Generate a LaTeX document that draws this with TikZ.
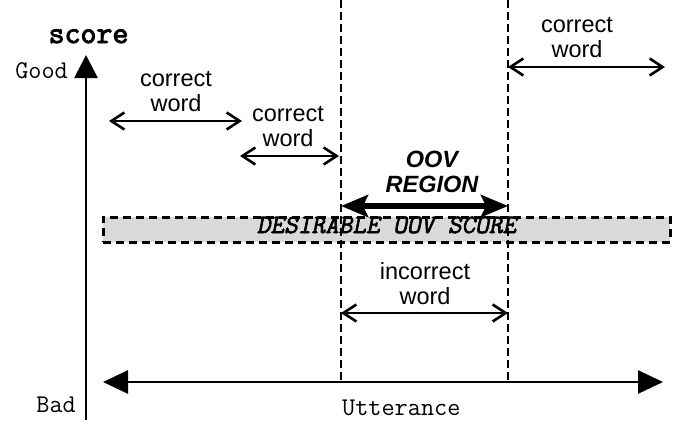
\documentclass[tikz,border=0pt]{standalone}
\usepackage{fontspec}
\setmainfont{Liberation Sans}
\newfontfamily\desfont{Latin Modern Mono}[FakeBold=2.5, FakeSlant=0.2]
\newfontfamily\scorefont{Latin Modern Mono}[FakeBold=3]
\usetikzlibrary{arrows.meta}
\begin{document}
\begin{tikzpicture}[x=1pt,y=-1pt,
  lbl/.style={font=\fontsize{23.5}{25}\selectfont, align=center, inner sep=0pt, anchor=south},
  monolbl/.style={font=\ttfamily\fontsize{25.5}{27}\selectfont, inner sep=0pt},
  thinarrow/.style={line width=2.6pt,
    {Straight Barb[length=13pt,width=17pt,line width=2.6pt]}-{Straight Barb[length=13pt,width=17pt,line width=2.6pt]}},
  bigarrow/.style={line width=6pt,
    {Stealth[length=27pt,width=22pt,inset=5pt]}-{Stealth[length=27pt,width=22pt,inset=5pt]}},
  axisarrow/.style={line width=2.8pt, -{Triangle[length=23pt,width=23pt]}},
  uttarrow/.style={line width=2.8pt,
    {Triangle[length=25pt,width=23pt]}-{Triangle[length=25pt,width=23pt]}},
  vdash/.style={line width=2.6pt, dash pattern=on 8pt off 4pt},
  desbox/.style={draw, line width=3pt, dash pattern=on 8pt off 5pt, fill=black!15,
    minimum width=567pt, minimum height=25pt, inner sep=0pt,
    text height=10pt, text depth=3pt,
    font=\desfont\fontsize{26.5}{28}\selectfont}]
\useasboundingbox (0,0) rectangle (682,426);

% desirable score band
\node[desbox] (des) at (386.5,229.5) {DESIRABLE OOV SCORE};

% vertical dashed region boundaries
\coordinate (lt) at (341,0);
\coordinate (lb) at (341,381);
\coordinate (rt) at (508,0);
\coordinate (rb) at (508,381);
\draw[vdash] (lt) -- (lb);
\draw[vdash] (rt) -- (rb);

% score axis
\coordinate (axb) at (86,420);
\coordinate (axt) at (86,55);
\draw[axisarrow] (axb) -- (axt);
\node[font=\scorefont\fontsize{31}{33}\selectfont, inner sep=0pt, anchor=base] (score) at (88.5,43) {score};
\node[monolbl, anchor=base east] (good) at (68,78) {Good};
\node[monolbl, anchor=base east] (bad) at (76,412) {Bad};

% utterance axis
\coordinate (ul) at (103,382);
\coordinate (ur) at (663,382);
\draw[uttarrow] (ul) -- (ur);
\node[monolbl, anchor=base west] (utt) at (342,415) {Utterance};

% correct word 1
\node[lbl] (cw1) at (176,112) {correct\\word};
\coordinate (c1l) at (109,121);
\coordinate (c1r) at (242,121);
\draw[thinarrow] (c1l) -- (c1r);

% correct word 2
\node[lbl] (cw2) at (288,147) {correct\\word};
\coordinate (c2l) at (240,156);
\coordinate (c2r) at (339,156);
\draw[thinarrow] (c2l) -- (c2r);

% correct word 3
\node[lbl] (cw3) at (577,58) {correct\\word};
\coordinate (c3l) at (508,67);
\coordinate (c3r) at (665,67);
\draw[thinarrow] (c3l) -- (c3r);

% OOV region
\node[lbl, font=\bfseries\itshape\fontsize{23.5}{25}\selectfont] (oov) at (432,193) {OOV\\REGION};
\coordinate (ol) at (341,206);
\coordinate (or) at (508,206);
\draw[bigarrow] (ol) -- (or);

% incorrect word
\node[lbl] (icw) at (425,305) {incorrect\\word};
\coordinate (il) at (341,313);
\coordinate (ir) at (508,313);
\draw[thinarrow] (il) -- (ir);
\end{tikzpicture}
\end{document}
